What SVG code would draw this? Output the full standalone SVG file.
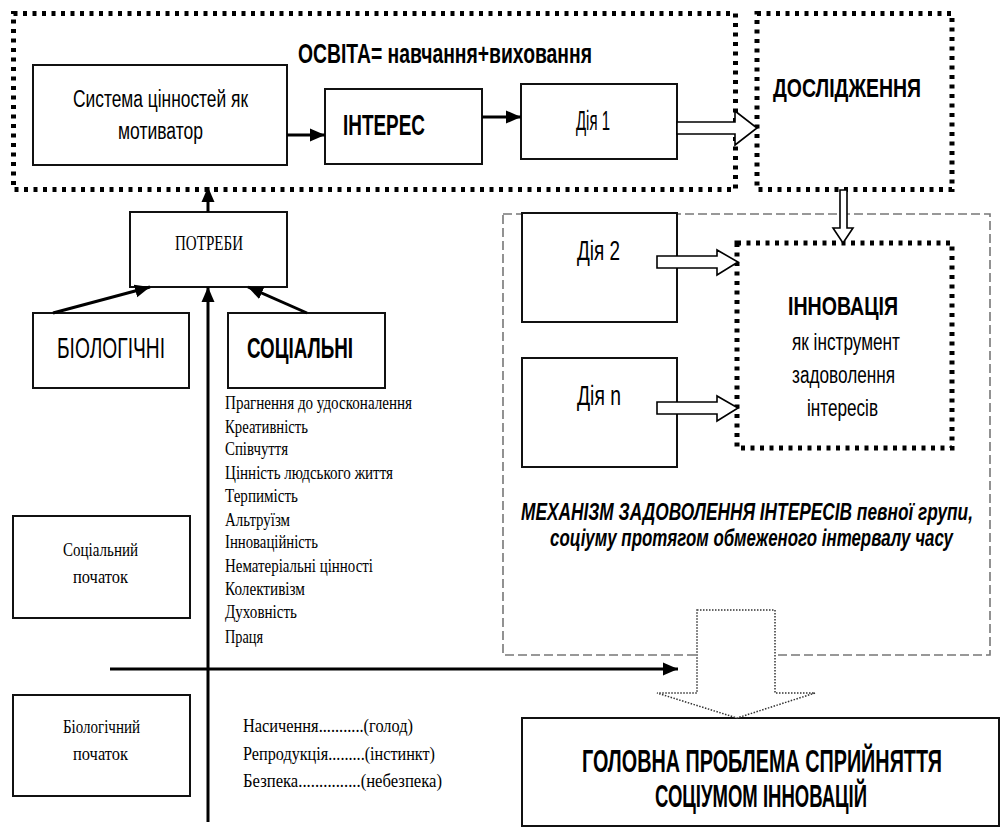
<svg xmlns="http://www.w3.org/2000/svg" width="1003" height="830" viewBox="0 0 1003 830">
<defs>
<style>
.box{fill:#fff;stroke:#111;stroke-width:2}
.dot{fill:none;stroke:#000;stroke-width:5;stroke-dasharray:4 5.5}
.dash{fill:none;stroke:#777;stroke-width:1.6;stroke-dasharray:9 4}
.ln{fill:none;stroke:#000;stroke-width:3}
.hollow{fill:#fff;stroke:#000;stroke-width:1.6;stroke-linejoin:miter}
.sans{font-family:"Liberation Sans",Arial,sans-serif;fill:#000}
.b{font-weight:bold}
.bi{font-weight:bold;font-style:italic}
.serif{font-family:"Liberation Serif","Times New Roman",serif;fill:#000}
</style>
<marker id="ah" markerUnits="userSpaceOnUse" markerWidth="16" markerHeight="16" viewBox="0 0 16 16" refX="15" refY="8" orient="auto">
<path d="M0,1.5 L15,8 L0,14.5 Z" fill="#000"/>
</marker>
</defs>
<rect width="1003" height="830" fill="#fff"/>

<!-- containers -->
<g id="osvita">
<rect class="dot" x="13.5" y="13.5" width="722" height="176"/>
<text class="sans b" x="298" y="63" font-size="28" textLength="294" lengthAdjust="spacingAndGlyphs">ОСВІТА= навчання+виховання</text>
</g>
<g id="mechanism">
<rect class="dash" x="503" y="214" width="487" height="441"/>
<text class="sans bi" x="521" y="0" transform="translate(0,520) scale(1,1.45)" font-size="16.5" textLength="452" lengthAdjust="spacingAndGlyphs">МЕХАНІЗМ ЗАДОВОЛЕННЯ  ІНТЕРЕСІВ певної групи,</text>
<text class="sans bi" x="550" y="0" transform="translate(0,546) scale(1,1.45)" font-size="16.5" textLength="403" lengthAdjust="spacingAndGlyphs">соціуму протягом обмеженого інтервалу часу</text>
</g>

<!-- nodes -->
<g id="sistema">
<rect class="box" x="33" y="65" width="254" height="100"/>
<text class="sans" x="73" y="107" font-size="23.5" textLength="175" lengthAdjust="spacingAndGlyphs">Система цінностей як</text>
<text class="sans" x="118" y="139" font-size="23.5" textLength="85" lengthAdjust="spacingAndGlyphs">мотиватор</text>
</g>
<g id="interes">
<rect class="box" x="325" y="89" width="157" height="75"/>
<text class="sans b" x="343" y="135" font-size="30" textLength="82" lengthAdjust="spacingAndGlyphs">ІНТЕРЕС</text>
</g>
<g id="diya1">
<rect class="box" x="521" y="84" width="156" height="75"/>
<text class="sans" x="576" y="130" font-size="28" textLength="34" lengthAdjust="spacingAndGlyphs">Дія 1</text>
</g>
<g id="doslidzhennya">
<rect class="dot" x="757" y="13.5" width="195" height="176"/>
<text class="sans b" x="773" y="97" font-size="25" textLength="148" lengthAdjust="spacingAndGlyphs">ДОСЛІДЖЕННЯ</text>
</g>
<g id="diya2">
<rect class="box" x="522" y="213" width="155" height="109"/>
<text class="sans" x="577" y="260" font-size="28" textLength="43" lengthAdjust="spacingAndGlyphs">Дія 2</text>
</g>
<g id="diyan">
<rect class="box" x="522" y="358" width="155" height="109"/>
<text class="sans" x="577" y="405" font-size="28" textLength="44" lengthAdjust="spacingAndGlyphs">Дія n</text>
</g>
<g id="innovatsiya">
<rect class="dot" x="737" y="243" width="215" height="205"/>
<text class="sans b" x="788" y="315" font-size="26" textLength="110" lengthAdjust="spacingAndGlyphs">ІННОВАЦІЯ</text>
<text class="sans" x="792" y="350" font-size="23" textLength="108" lengthAdjust="spacingAndGlyphs">як інструмент</text>
<text class="sans" x="792" y="383" font-size="23" textLength="103" lengthAdjust="spacingAndGlyphs">задоволення</text>
<text class="sans" x="807" y="416" font-size="23" textLength="71" lengthAdjust="spacingAndGlyphs">інтересів</text>
</g>
<g id="potreby">
<rect class="box" x="130" y="212" width="157" height="75"/>
<text class="serif" x="175" y="250" font-size="20" textLength="68" lengthAdjust="spacingAndGlyphs">ПОТРЕБИ</text>
</g>
<g id="biologichni">
<rect class="box" x="33" y="313" width="156" height="75"/>
<text class="sans" x="57" y="358" font-size="29" textLength="108" lengthAdjust="spacingAndGlyphs">БІОЛОГІЧНІ</text>
</g>
<g id="sotsialni">
<rect class="box" x="228" y="313" width="157" height="75"/>
<text class="sans b" x="247" y="358" font-size="29" textLength="106" lengthAdjust="spacingAndGlyphs">СОЦІАЛЬНІ</text>
</g>
<g id="sotsialnyi-pochatok">
<rect class="box" x="13" y="516" width="177" height="102"/>
<text class="serif" x="63" y="556" font-size="19" textLength="75" lengthAdjust="spacingAndGlyphs">Соціальний</text>
<text class="serif" x="73" y="583" font-size="19" textLength="55" lengthAdjust="spacingAndGlyphs">початок</text>
</g>
<g id="biolohichnyi-pochatok">
<rect class="box" x="13" y="695" width="177" height="101"/>
<text class="serif" x="63" y="733" font-size="19" textLength="77" lengthAdjust="spacingAndGlyphs">Біологічний</text>
<text class="serif" x="73" y="760" font-size="19" textLength="55" lengthAdjust="spacingAndGlyphs">початок</text>
</g>
<g id="social-list">
<text class="serif" x="225" y="409" font-size="19" textLength="187" lengthAdjust="spacingAndGlyphs">Прагнення до удосконалення</text>
<text class="serif" x="225" y="433" font-size="19" textLength="83" lengthAdjust="spacingAndGlyphs">Креативність</text>
<text class="serif" x="225" y="455" font-size="19" textLength="63" lengthAdjust="spacingAndGlyphs">Співчуття</text>
<text class="serif" x="225" y="479" font-size="19" textLength="168" lengthAdjust="spacingAndGlyphs">Цінність людського життя</text>
<text class="serif" x="225" y="502" font-size="19" textLength="73" lengthAdjust="spacingAndGlyphs">Терпимість</text>
<text class="serif" x="225" y="526" font-size="19" textLength="65" lengthAdjust="spacingAndGlyphs">Альтруїзм</text>
<text class="serif" x="225" y="548" font-size="19" textLength="93" lengthAdjust="spacingAndGlyphs">Інноваційність</text>
<text class="serif" x="225" y="572" font-size="19" textLength="148" lengthAdjust="spacingAndGlyphs">Нематеріальні цінності</text>
<text class="serif" x="225" y="595" font-size="19" textLength="80" lengthAdjust="spacingAndGlyphs">Колективізм</text>
<text class="serif" x="225" y="618" font-size="19" textLength="72" lengthAdjust="spacingAndGlyphs">Духовність</text>
<text class="serif" x="225" y="643" font-size="19" textLength="38" lengthAdjust="spacingAndGlyphs">Праця</text>
</g>
<g id="bio-list">
<text class="serif" x="243" y="732" font-size="19" textLength="170" lengthAdjust="spacingAndGlyphs">Насичення...........(голод)</text>
<text class="serif" x="243" y="760" font-size="19" textLength="192" lengthAdjust="spacingAndGlyphs">Репродукція.........(інстинкт)</text>
<text class="serif" x="243" y="787" font-size="19" textLength="199" lengthAdjust="spacingAndGlyphs">Безпека...............(небезпека)</text>
</g>
<g id="holovna">
<rect class="box" x="522" y="718" width="477" height="108"/>
<text class="sans b" x="582" y="0" transform="translate(0,772) scale(1,1.45)" font-size="21" textLength="360" lengthAdjust="spacingAndGlyphs">ГОЛОВНА ПРОБЛЕМА СПРИЙНЯТТЯ</text>
<text class="sans b" x="655" y="0" transform="translate(0,807) scale(1,1.45)" font-size="21" textLength="212" lengthAdjust="spacingAndGlyphs">СОЦІУМОМ ІННОВАЦІЙ</text>
</g>

<!-- connectors -->
<g id="connectors">
<line class="ln" x1="287" y1="135" x2="325" y2="135" marker-end="url(#ah)"/>
<line class="ln" x1="482" y1="117" x2="521" y2="117" marker-end="url(#ah)"/>
<line class="ln" x1="208" y1="212" x2="208" y2="187" marker-end="url(#ah)"/>
<line class="ln" x1="53" y1="313" x2="150" y2="287" marker-end="url(#ah)"/>
<line class="ln" x1="307" y1="313" x2="248" y2="287" marker-end="url(#ah)"/>
<line class="ln" x1="208" y1="822" x2="208" y2="287" marker-end="url(#ah)"/>
<line class="ln" x1="110" y1="669" x2="678" y2="669" marker-end="url(#ah)"/>
<path class="hollow" d="M677,122 L735,122 L735,111 L757,128 L735,145 L735,134 L677,134 Z"/>
<path class="hollow" d="M840,190 L847,190 L847,228 L853,228 L843,243 L833,228 L840,228 Z"/>
<path class="hollow" d="M657,256 L717,256 L717,250 L738,262 L717,275 L717,268 L657,268 Z"/>
<path class="hollow" d="M657,402 L717,402 L717,396 L738,408 L717,421 L717,414 L657,414 Z"/>
<path d="M697,610 L775,610 L775,693 L815,693 L737,718 L657,693 L697,693 Z" fill="#fff" stroke="#333" stroke-width="1.5" stroke-dasharray="1.5 1.5"/>
</g>
</svg>
